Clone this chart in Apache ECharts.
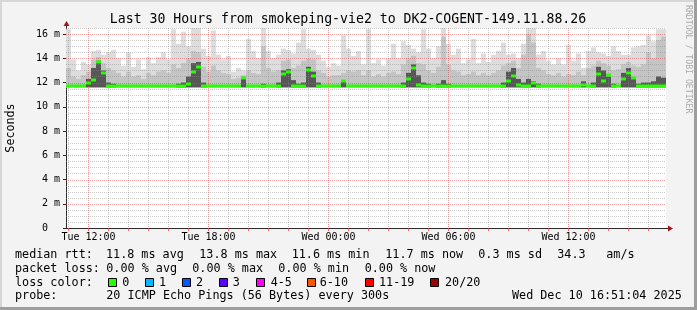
<!DOCTYPE html>
<html><head><meta charset="utf-8">
<script src="https://cdn.jsdelivr.net/npm/echarts@6/dist/echarts.min.js"></script>
<style>html,body{margin:0;padding:0;background:#f3f3f3;overflow:hidden}#c{width:697px;height:310px}</style>
</head><body><div id="c"></div>
<script>
// ---------------- data ----------------
const titleText = 'Last 30 Hours from smokeping-vie2 to DK2-COGENT-149.11.88.26';
const startHour = 10.875;          // hours since Tue 00:00 (Tue 10:52:30)
const spanHours = 30;
const stepHours = 0.25;            // one smoke column = 15 minutes
const yMax = 16.5;                 // ms
const pingFloor = 11.6;            // lowest ping (ms)

// top of lightest smoke (max ping), ms
const smokeTop = [16.4,13.9,13.0,13.7,13.5,14.6,14.7,14.3,14.5,14.7,
14.0,13.4,14.5,13.3,13.9,13.1,14.1,13.6,14.1,14.5,
13.9,16.4,15.2,16.2,15.0,16.5,16.5,14.8,14.2,16.3,
14.3,13.9,14.2,12.9,13.2,13.0,15.6,14.6,14.0,16.5,
14.6,14.0,14.3,14.8,14.7,14.4,15.3,16.4,14.8,14.7,
14.3,13.8,13.3,13.6,13.4,15.9,14.8,14.2,14.6,13.5,
16.4,13.6,13.9,13.4,14.0,15.2,14.0,15.4,15.1,14.8,
14.5,16.4,14.8,14.0,15.0,16.5,15.2,14.3,14.8,13.6,
13.9,15.6,13.6,14.4,13.7,14.3,14.6,15.3,14.3,14.4,
14.0,15.2,16.5,16.5,14.3,14.6,13.8,13.5,14.0,13.5,
15.1,13.8,14.4,13.2,14.6,14.9,14.5,14.4,14.2,15.0,
14.6,14.3,14.3,14.9,15.0,15.1,15.9,15.4,16.4,16.4];
// top of medium smoke, ms
const smokeMid = [13.2,12.5,12.3,12.6,12.9,13.9,14.1,13.6,13.2,13.0,
12.8,12.5,12.9,12.5,12.6,12.3,12.8,12.6,12.9,13.0,
12.8,13.5,13.2,13.6,14.0,14.6,14.5,13.3,12.9,13.4,
13.0,12.8,12.7,12.3,12.4,12.6,13.0,12.8,12.7,15.0,
13.2,12.9,13.0,13.8,13.9,13.2,13.4,13.8,14.0,13.9,
13.0,12.8,12.5,12.6,12.6,12.8,13.0,12.9,13.0,12.6,
13.0,12.5,12.7,12.5,12.8,12.9,12.7,13.5,14.0,14.2,
13.6,13.5,13.0,12.8,13.3,15.8,13.5,13.0,12.9,12.6,
12.7,12.9,12.6,12.8,12.6,12.8,13.0,13.4,13.6,13.8,
13.2,14.3,16.0,15.3,13.2,13.0,12.7,12.6,12.8,12.5,
12.7,12.6,12.9,12.6,13.2,13.4,13.8,13.6,13.4,13.0,
13.1,13.5,13.7,13.4,13.3,13.5,14.5,14.0,15.5,15.8];
// top of dark smoke (null = none), ms
const smokeDark = [null,null,null,null,12.3,13.2,13.8,13.0,12.0,11.9,
null,null,null,null,null,null,null,null,null,null,
null,null,11.9,12.0,12.5,13.6,13.7,12.0,null,null,
null,null,null,null,null,12.4,null,null,null,11.9,
null,null,12.0,13.0,13.1,12.2,11.9,12.0,13.3,12.9,
12.0,null,null,null,null,12.1,null,null,null,null,
null,null,null,null,null,null,null,12.0,12.8,13.5,
12.6,12.0,11.9,null,11.9,12.2,11.9,null,null,null,
null,null,null,null,null,null,null,12.0,12.9,13.2,
12.3,12.0,12.3,12.1,11.9,null,null,null,null,null,
null,null,null,12.1,null,12.0,13.3,13.0,12.5,11.9,
null,12.8,13.2,12.4,11.9,12.0,12.0,12.1,12.5,12.4];
// median rtt, ms
const medianRtt = [11.7,11.7,11.7,11.7,12.0,12.2,13.7,12.8,11.7,11.7,
11.7,11.7,11.7,11.7,11.7,11.7,11.7,11.7,11.7,11.7,
11.7,11.7,11.7,11.7,11.9,12.9,13.3,11.7,11.7,11.7,
11.7,11.7,11.7,11.7,11.7,12.4,11.7,11.7,11.7,11.7,
11.7,11.7,11.7,12.7,12.9,11.7,11.7,11.7,13.0,12.5,
11.7,11.7,11.7,11.7,11.7,12.1,11.7,11.7,11.7,11.7,
11.7,11.7,11.7,11.7,11.7,11.7,11.7,11.7,12.3,13.2,
11.8,11.7,11.7,11.7,11.7,11.7,11.7,11.7,11.7,11.7,
11.7,11.7,11.7,11.7,11.7,11.7,11.7,11.7,12.1,12.5,
11.8,11.7,11.7,12.0,11.7,11.7,11.7,11.7,11.7,11.7,
11.7,11.7,11.7,11.8,11.7,11.7,12.7,12.1,12.6,11.7,
11.7,12.3,12.8,12.4,11.7,11.7,11.7,11.7,11.7,11.7];

// axes
const xTickHours = [12,18,24,30,36];
const xTickLabels = ['Tue 12:00','Tue 18:00','Wed 00:00','Wed 06:00','Wed 12:00'];
const xMinorHours = [11,13,14,15,16,17,19,20,21,22,23,25,26,27,28,29,31,32,33,34,35,37,38,39,40];
const xHourTicks = [11,12,13,14,15,16,17,18,19,20,21,22,23,24,25,26,27,28,29,30,31,32,33,34,35,36,37,38,39,40];
const yMajorTicks = [0,2,4,6,8,10,12,14,16];
const yTickLabels = ['0  ','2 m','4 m','6 m','8 m','10 m','12 m','14 m','16 m'];
const yMinorTicks = [0.5,1,1.5,2.5,3,3.5,4.5,5,5.5,6.5,7,7.5,8.5,9,9.5,10.5,11,11.5,12.5,13,13.5,14.5,15,15.5,16.5];

// legend texts
const legendRows = [
  ['median rtt:', '11.8 ms avg', '13.8 ms max', '11.6 ms min', '11.7 ms now', '0.3 ms sd', '34.3', 'am/s'],
  ['packet loss:', '0.00 % avg', '0.00 % max', '0.00 % min', '0.00 % now'],
  ['loss color:'],
  ['probe:', '20 ICMP Echo Pings (56 Bytes) every 300s', 'Wed Dec 10 16:51:04 2025']
];
const lossLabels = ['0','1','2','3','4-5','6-10','11-19','20/20'];
const lossColors = ['#26ff00','#00b8ff','#0059ff','#5e00ff','#ff00ff','#ff5500','#ff0000','#a10000'];
const watermark = 'RRDTOOL / TOBI OETIKER';
const yAxisName = 'Seconds';

// ---------------- layout / style ----------------
const MONO = 'DejaVu Sans Mono';
const legendX = [
  [15, 106, 199.3, 291.7, 385.3, 478.3, 557.3, 606.3],
  [15, 106.3, 192.3, 278.3, 364.7],
  [15],
  [15, 106.3, 512]
];
const legendY = [254.5, 268.5, 282.5, 296.3];
const lossBoxX = [108.5, 145.5, 182.5, 219.5, 256.5, 307.5, 365.5, 430.5];
const lossTextX = [122.3, 159, 196, 232.7, 270.7, 319.7, 379, 445];
const SMOKE_COLORS = ['#dddddd', '#c4c4c4', '#575757'];
const MEDIAN_COLOR = lossColors[0];
const GRID_MINOR = 'rgba(143,143,143,0.45)';
const GRID_MAJOR = 'rgba(222,80,80,0.55)';

const chart = echarts.init(document.getElementById('c'), null, {renderer: 'canvas', width: 697, height: 310});

const colData = smokeTop.map((v, i) => [startHour + (i + 0.5) * stepHours, v]);
const gridItems = []
  .concat(xMinorHours.map(h => [0, h]))
  .concat(xTickHours.map(h => [1, h]))
  .concat(yMinorTicks.map(v => [2, v]))
  .concat(yMajorTicks.filter(v => v > 0).map(v => [3, v]));

function colEdges(api, i) {
  const xa = startHour + i * stepHours;
  const xl = Math.round(api.coord([xa, 0])[0]);
  const xr = Math.round(api.coord([xa + stepHours, 0])[0]);
  return [xl, xr];
}

const option = {
  backgroundColor: '#f3f3f3',
  animation: false,
  grid: {left: 66, top: 28, width: 600, height: 200, show: true, backgroundColor: '#ffffff', borderWidth: 0},
  xAxis: {
    type: 'value', min: startHour, max: startHour + spanHours,
    axisLine: {show: true, onZero: false, lineStyle: {color: '#2a2a2a', width: 1}},
    axisTick: {show: true, customValues: xHourTicks, length: 3, lineStyle: {color: 'rgba(222,80,80,0.85)'}},
    axisLabel: {
      customValues: xTickHours,
      formatter: v => { const k = xTickHours.indexOf(v); return k >= 0 ? xTickLabels[k] : ''; },
      fontFamily: MONO, fontSize: 10, color: '#000', margin: 4
    },
    splitLine: {show: false}
  },
  yAxis: {
    type: 'value', min: 0, max: yMax, interval: 2,
    axisLine: {show: true, onZero: false, lineStyle: {color: '#2a2a2a', width: 1}},
    axisTick: {show: true, customValues: yMajorTicks, length: 3, lineStyle: {color: '#2a2a2a'}},
    axisLabel: {
      customValues: yMajorTicks,
      formatter: v => { const k = yMajorTicks.indexOf(v); return k >= 0 ? yTickLabels[k] : ''; },
      fontFamily: MONO, fontSize: 10, color: '#000', margin: 6
    },
    splitLine: {show: false}
  },
  series: [
    {
      type: 'custom', name: 'smoke', z: 1, silent: true,
      data: colData,
      renderItem: (params, api) => {
        const i = params.dataIndex;
        const [xl, xr] = colEdges(api, i);
        const yb = api.coord([0, pingFloor])[1];
        const band = (hi, color) => {
          const yt = api.coord([0, hi])[1];
          return {type: 'rect', shape: {x: xl, y: yt, width: xr - xl, height: yb - yt}, style: {fill: color}};
        };
        const ch = [band(smokeTop[i], SMOKE_COLORS[0]), band(smokeMid[i], SMOKE_COLORS[1])];
        if (smokeDark[i] != null) ch.push(band(smokeDark[i], SMOKE_COLORS[2]));
        return {type: 'group', children: ch};
      }
    },
    {
      type: 'custom', name: 'grid', z: 2, silent: true,
      data: gridItems.map((g, i) => [i]),
      renderItem: (params, api) => {
        const [kind, val] = gridItems[params.dataIndex];
        if (kind < 2) {
          const p = api.coord([val, 0]);
          const x = Math.floor(p[0]) + 0.5;
          const yt = api.coord([val, yMax])[1];
          return {type: 'line', shape: {x1: x, y1: yt, x2: x, y2: p[1]},
            style: {stroke: kind ? GRID_MAJOR : GRID_MINOR, lineWidth: 1, lineDash: [1, 1]}};
        }
        const a = api.coord([startHour, val]);
        const b = api.coord([startHour + spanHours, val]);
        const y = Math.round(a[1]) + 0.5;
        return {type: 'line', shape: {x1: a[0], y1: y, x2: b[0], y2: y},
          style: {stroke: kind === 3 ? GRID_MAJOR : GRID_MINOR, lineWidth: 1, lineDash: [1, 1]}};
      }
    },
    {
      type: 'custom', name: 'median', z: 3, silent: true,
      data: colData,
      renderItem: (params, api) => {
        const i = params.dataIndex;
        const [xl, xr] = colEdges(api, i);
        const y = Math.round(api.coord([0, medianRtt[i]])[1]);
        return {type: 'rect', shape: {x: xl, y: y - 1.5, width: xr - xl, height: 3}, style: {fill: MEDIAN_COLOR}};
      }
    }
  ]
};
chart.setOption(option);

// decorations placed from the axis scale
const o = chart.convertToPixel({gridIndex: 0}, [startHour, 0]);
const xe = chart.convertToPixel({gridIndex: 0}, [startHour + spanHours, 0]);
const yt = chart.convertToPixel({gridIndex: 0}, [startHour, yMax]);
const ax = Math.round(o[0]) + 0.5, ay = Math.round(o[1]) + 0.5;
const ARROW = '#a01515';
const graphics = [];
// frame
graphics.push({type: 'rect', shape: {x: 0, y: 0, width: 697, height: 2}, style: {fill: '#d6d6d6'}, z: 10});
graphics.push({type: 'rect', shape: {x: 0, y: 0, width: 2, height: 310}, style: {fill: '#d6d6d6'}, z: 10});
graphics.push({type: 'rect', shape: {x: 694, y: 0, width: 3, height: 310}, style: {fill: '#9e9e9e'}, z: 10});
graphics.push({type: 'rect', shape: {x: 0, y: 307, width: 697, height: 3}, style: {fill: '#9e9e9e'}, z: 10});
// axis extensions and arrows
graphics.push({type: 'line', shape: {x1: ax, y1: yt[1], x2: ax, y2: yt[1] - 3}, style: {stroke: '#2a2a2a', lineWidth: 1}, z: 10});
graphics.push({type: 'polygon', shape: {points: [[ax - 3, yt[1] - 2], [ax + 3, yt[1] - 2], [ax, yt[1] - 7]]}, style: {fill: ARROW}, z: 10});
graphics.push({type: 'line', shape: {x1: xe[0], y1: ay, x2: xe[0] + 3, y2: ay}, style: {stroke: '#2a2a2a', lineWidth: 1}, z: 10});
graphics.push({type: 'polygon', shape: {points: [[xe[0] + 2, ay - 3], [xe[0] + 2, ay + 3], [xe[0] + 7, ay]]}, style: {fill: ARROW}, z: 10});
// title
graphics.push({type: 'text', x: 348, y: 19.5, style: {text: titleText, font: '13.2px "' + MONO + '"', fill: '#000', textAlign: 'center', textVerticalAlign: 'middle'}, z: 10});
// y axis name
graphics.push({type: 'text', x: 11, y: (o[1] + yt[1]) / 2, rotation: Math.PI / 2, style: {text: yAxisName, font: '11.7px "' + MONO + '"', fill: '#000', textAlign: 'center', textVerticalAlign: 'middle'}, z: 10});
// watermark
graphics.push({type: 'text', x: 688.5, y: 5, rotation: -Math.PI / 2, style: {text: watermark, font: '8.2px "' + MONO + '"', fill: '#ababab', textAlign: 'left', textVerticalAlign: 'middle'}, z: 10});
// legend rows
legendRows.forEach((row, r) => {
  row.forEach((t, k) => {
    graphics.push({type: 'text', x: legendX[r][k], y: legendY[r], style: {text: t, font: '11.75px "' + MONO + '"', fill: '#000', textAlign: 'left', textVerticalAlign: 'middle'}, z: 10});
  });
});
lossLabels.forEach((t, k) => {
  graphics.push({type: 'rect', shape: {x: lossBoxX[k], y: 278.5, width: 8, height: 8}, style: {fill: lossColors[k], stroke: '#000', lineWidth: 1}, z: 10});
  graphics.push({type: 'text', x: lossTextX[k], y: legendY[2], style: {text: t, font: '11.75px "' + MONO + '"', fill: '#000', textAlign: 'left', textVerticalAlign: 'middle'}, z: 10});
});
chart.setOption({graphic: graphics});
</script>
</body></html>
